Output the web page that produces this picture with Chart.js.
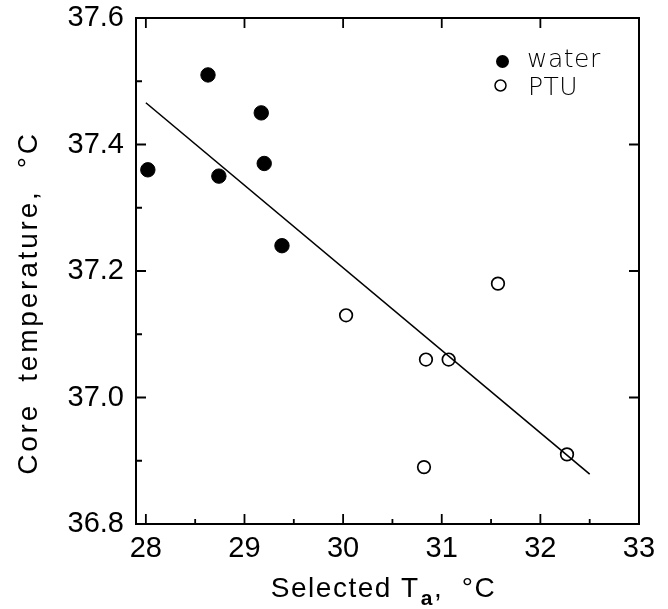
<!DOCTYPE html>
<html>
<head>
<meta charset="utf-8">
<script src="https://cdn.jsdelivr.net/npm/chart.js@4"></script>
<style>
  html, body { margin: 0; padding: 0; background: #fff; }
  #wrap { width: 668px; height: 609px; }
</style>
</head>
<body>
<div id="wrap"><canvas id="myChart" width="668" height="609"></canvas></div>
<script>
// data
const waterX = [28.02, 28.63, 28.74, 29.17, 29.20, 29.38];
const waterY = [37.36, 37.51, 37.35, 37.45, 37.37, 37.24];
const ptuX = [30.03, 30.84, 31.07, 30.82, 31.57, 32.27];
const ptuY = [37.13, 37.06, 37.06, 36.89, 37.18, 36.91];
const fitX = [28.0, 32.5];
const fitY = [37.466, 36.879];

// axis ticks
const xMajor = [28, 29, 30, 31, 32, 33];
const xMinor = [28.5, 29.5, 30.5, 31.5, 32.5];
const yMajor = [36.8, 37.0, 37.2, 37.4, 37.6];
const yMinor = [36.9, 37.1, 37.3, 37.5];

const toPts = (xs, ys) => xs.map((x, i) => ({x: x, y: ys[i]}));

const data = {
  datasets: [
    {
      label: 'water',
      type: 'scatter',
      data: toPts(waterX, waterY),
      pointRadius: 7.2,
      pointBackgroundColor: '#000',
      pointBorderColor: '#000',
      pointBorderWidth: 1
    },
    {
      label: 'PTU',
      type: 'scatter',
      data: toPts(ptuX, ptuY),
      pointRadius: 6.3,
      pointBackgroundColor: 'rgba(0,0,0,0)',
      pointBorderColor: '#000',
      pointBorderWidth: 1.7
    },
    {
      label: 'fit',
      type: 'line',
      data: toPts(fitX, fitY),
      borderColor: '#000',
      borderWidth: 1.6,
      pointRadius: 0,
      fill: false
    }
  ]
};

/*
  frame, inward ticks, axis titles and the legend box
*/
const decor = {
  id: 'decor',
  afterDraw(chart) {
    const ctx = chart.ctx;
    const a = chart.chartArea;
    const xs = chart.scales.x, ys = chart.scales.y;
    ctx.save();
    ctx.strokeStyle = '#000';
    ctx.lineWidth = 2;
    ctx.strokeRect(a.left, a.top, a.right - a.left, a.bottom - a.top);

    ctx.lineWidth = 1.8;
    ctx.beginPath();
    xMajor.forEach(v => {
      const px = xs.getPixelForValue(v);
      ctx.moveTo(px, a.bottom); ctx.lineTo(px, a.bottom - 10);
      ctx.moveTo(px, a.top); ctx.lineTo(px, a.top + 10);
    });
    xMinor.forEach(v => {
      const px = xs.getPixelForValue(v);
      ctx.moveTo(px, a.bottom); ctx.lineTo(px, a.bottom - 5);
    });
    yMajor.forEach(v => {
      const py = ys.getPixelForValue(v);
      ctx.moveTo(a.left, py); ctx.lineTo(a.left + 10, py);
      ctx.moveTo(a.right, py); ctx.lineTo(a.right - 10, py);
    });
    yMinor.forEach(v => {
      const py = ys.getPixelForValue(v);
      ctx.moveTo(a.left, py); ctx.lineTo(a.left + 6, py);
    });
    ctx.stroke();

    // y title
    ctx.fillStyle = '#000';
    ctx.letterSpacing = '2.8px';
    ctx.font = '28px "Liberation Sans", Arial, sans-serif';
    ctx.textAlign = 'center';
    ctx.textBaseline = 'middle';
    ctx.save();
    ctx.translate(29, 303);
    ctx.rotate(-Math.PI / 2);
    ctx.fillText('Core  temperature,  \u00B0C', 0, 0);
    ctx.restore();

    // x title with subscript
    const main = 'Selected T';
    const sub = 'a';
    const rest = ',  \u00B0C';
    ctx.letterSpacing = '1.5px';
    ctx.textAlign = 'left';
    ctx.textBaseline = 'alphabetic';
    const fMain = '28px "Liberation Sans", Arial, sans-serif';
    const fSub = 'bold 21px "Liberation Sans", Arial, sans-serif';
    ctx.font = fMain;
    const w1 = ctx.measureText(main).width;
    const w3 = ctx.measureText(rest).width;
    ctx.font = fSub;
    const w2 = ctx.measureText(sub).width;
    let x0 = 383 - (w1 + w2 + w3) / 2;
    const base = 597;
    ctx.font = fMain;
    ctx.fillText(main, x0, base);
    ctx.font = fSub;
    ctx.fillText(sub, x0 + w1 + 1, base + 8);
    ctx.font = fMain;
    ctx.fillText(rest, x0 + w1 + w2 + 1, base);

    // legend
    ctx.letterSpacing = '0.5px';
    ctx.font = '200 25px "DejaVu Sans", sans-serif';
    ctx.textBaseline = 'middle';
    const d0 = chart.data.datasets[0], d1 = chart.data.datasets[1];
    ctx.beginPath();
    ctx.arc(502.5, 61.5, 6.5, 0, Math.PI * 2);
    ctx.fillStyle = d0.pointBackgroundColor;
    ctx.fill();
    ctx.beginPath();
    ctx.arc(500.5, 85.5, 5.5, 0, Math.PI * 2);
    ctx.lineWidth = 1.5;
    ctx.strokeStyle = d1.pointBorderColor;
    ctx.stroke();
    ctx.fillStyle = '#000';
    ctx.fillText(d0.label, 527, 60);
    ctx.fillText(d1.label, 528, 88);
    ctx.restore();
  }
};

const tickFont = { family: '"Liberation Sans", Arial, sans-serif', size: 29 };

const config = {
  type: 'scatter',
  data,
  options: {
    responsive: false,
    animation: false,
    layout: { padding: { top: 18, right: 29, left: 0, bottom: 0 } },
    plugins: { legend: { display: false }, tooltip: { enabled: false } },
    scales: {
      x: {
        type: 'linear',
        min: 27.9,
        max: 33,
        afterBuildTicks: s => { s.ticks = xMajor.map(v => ({value: v})); },
        afterFit: s => { s.height = 85; s.paddingLeft = 0; s.paddingRight = 0; },
        grid: { display: false, drawTicks: false },
        border: { display: false },
        ticks: { color: '#000', font: tickFont, padding: 8, maxRotation: 0, autoSkip: false,
                 callback: v => String(v) }
      },
      y: {
        type: 'linear',
        min: 36.8,
        max: 37.6,
        afterBuildTicks: s => { s.ticks = yMajor.map(v => ({value: v})); },
        afterFit: s => { s.width = 136; s.paddingTop = 0; s.paddingBottom = 0; },
        grid: { display: false, drawTicks: false },
        border: { display: false },
        ticks: { color: '#000', font: tickFont, padding: 12, autoSkip: false,
                 callback: v => Number(v).toFixed(1) }
      }
    }
  },
  plugins: [decor]
};

var myChart = new Chart(document.getElementById('myChart'), config);
</script>
</body>
</html>
